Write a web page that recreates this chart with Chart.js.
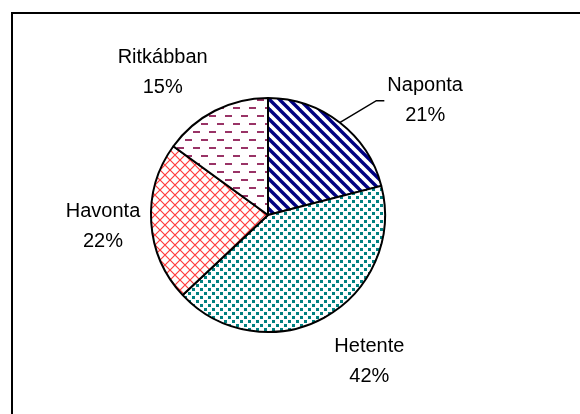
<!DOCTYPE html>
<html>
<head>
<meta charset="utf-8">
<script src="https://cdn.jsdelivr.net/npm/chart.js@4.4.1/dist/chart.umd.min.js"></script>
<style>
  html, body { margin: 0; padding: 0; background: #fff; }
  canvas { display: block; }
</style>
</head>
<body>
<canvas id="pieCanva" width="580" height="414"></canvas>
<script>
// Data
const categories = ['Naponta', 'Hetente', 'Havonta', 'Ritkábban'];
const shares = [21, 42, 22, 15];

// Label placement (push along the slice middle, then nudge)
const labelNudge = [[46, 29], [14, -12], [16, 0], [-23, 19]];
const showLeader = [true, false, false, false];

const canva = document.getElementById('pieCanva');
const ctx = canva.getContext('2d');

// Make a repeating fill from a small tile
function makePattern(w, h, draw) {
    const tile = document.createElement('canvas');
    tile.width = w;
    tile.height = h;
    const g = tile.getContext('2d');
    g.fillStyle = '#ffffff';
    g.fillRect(0, 0, w, h);
    draw(g);
    return ctx.createPattern(tile, 'repeat');
}

// Naponta : wide downward diagonal, navy
const stripes = makePattern(10, 10, function (g) {
    g.strokeStyle = '#000080';
    g.lineWidth = 3.4;
    for (let k = -10; k <= 10; k += 10) {
        g.beginPath();
        g.moveTo(k - 2, -2);
        g.lineTo(k + 12, 12);
        g.stroke();
    }
});

// Hetente : small teal dots
const dots = makePattern(8, 8, function (g) {
    g.fillStyle = '#008080';
    g.fillRect(0, 0, 3, 3);
    g.fillRect(4, 4, 3, 3);
});

// Havonta : red diagonal grid
const grid = makePattern(10, 10, function (g) {
    g.strokeStyle = '#ff3c3c';
    g.lineWidth = 1.2;
    g.beginPath();
    g.moveTo(0, 0); g.lineTo(10, 10);
    g.moveTo(10, 0); g.lineTo(0, 10);
    g.stroke();
});

// Ritkábban : purple horizontal dashes
const dashes = makePattern(16, 16, function (g) {
    g.fillStyle = '#993366';
    g.fillRect(1, 3, 7, 2);
    g.fillRect(9, 11, 7, 2);
});

const fills = [stripes, dots, grid, dashes];

////////// Frame + background //////////
const framePlugin = {
    id: 'frame',
    beforeDraw(chart) {
        const c = chart.ctx;
        c.save();
        c.fillStyle = '#ffffff';
        c.fillRect(0, 0, chart.width, chart.height);
        c.strokeStyle = '#000000';
        c.lineWidth = 2;
        c.strokeRect(12, 13, chart.width + 10, chart.height + 10);
        c.restore();
    }
};

////////// Labels with percent //////////
const labelPlugin = {
    id: 'pieLabels',
    afterDatasetsDraw(chart) {
        const c = chart.ctx;
        const meta = chart.getDatasetMeta(0);
        const total = shares.reduce((a, b) => a + b, 0);
        c.save();
        c.font = '20px "Liberation Sans", Arial, sans-serif';
        c.fillStyle = '#000000';
        c.textAlign = 'center';
        c.textBaseline = 'middle';
        meta.data.forEach(function (arc, i) {
            const mid = (arc.startAngle + arc.endAngle) / 2;
            const r = arc.outerRadius;
            const x = arc.x + Math.cos(mid) * r * 1.55 + labelNudge[i][0];
            const y = arc.y + Math.sin(mid) * r * 1.55 + labelNudge[i][1];
            const pct = Math.round(shares[i] / total * 100) + '%';
            c.fillText(categories[i], x, y - 15);
            c.fillText(pct, x, y + 15);

            if (showLeader[i]) {
                const w = Math.max(c.measureText(categories[i]).width, c.measureText(pct).width);
                const endX = x - w / 2 - 3;
                c.strokeStyle = '#000000';
                c.lineWidth = 1.5;
                c.beginPath();
                c.moveTo(arc.x + Math.cos(mid) * r, arc.y + Math.sin(mid) * r);
                c.lineTo(endX - 8, y);
                c.lineTo(endX, y);
                c.stroke();
            }
        });
        c.restore();
    }
};

const pieChart = new Chart(ctx, {
    type: 'pie',
    data: {
        labels: categories,
        datasets: [{
            data: shares,
            backgroundColor: fills,
            borderColor: '#000000',
            borderWidth: 2,
            borderAlign: 'center'
        }]
    },
    options: {
        responsive: false,
        animation: false,
        layout: {
            padding: { left: 150, right: 194, top: 97, bottom: 81 }
        },
        plugins: {
            legend: { display: false },
            tooltip: { enabled: false },
            title: { display: false }
        }
    },
    plugins: [framePlugin, labelPlugin]
});
</script>
</body>
</html>
